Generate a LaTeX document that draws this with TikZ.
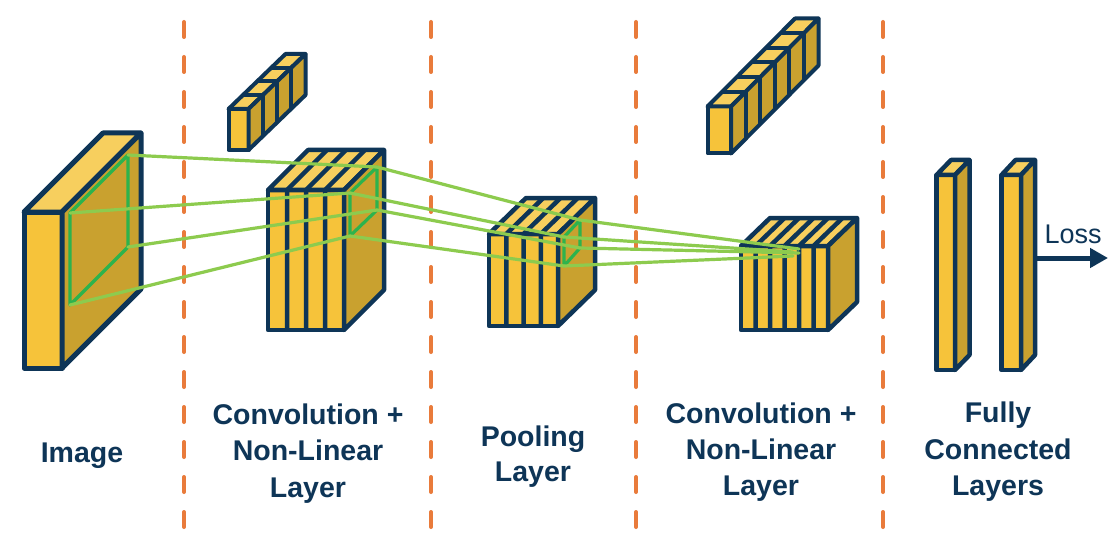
\documentclass[tikz,border=0pt]{standalone}
\usepackage{fontspec}
\setmainfont{Liberation Sans}
\usetikzlibrary{arrows.meta}
\definecolor{navy}{HTML}{0E3557}
\definecolor{cfront}{HTML}{F6C33A}
\definecolor{ctop}{HTML}{F7CF5E}
\definecolor{cright}{HTML}{C9A12F}
\definecolor{gline}{HTML}{8DCB4E}
\definecolor{gsq}{HTML}{2DB34D}
\definecolor{dashc}{HTML}{E97B3B}
\tikzset{
  face/.style={draw=navy, line join=round},
  divider/.style={dashc, line width=4pt, line cap=round, dash pattern=on 15pt off 20pt},
  ray/.style={gline, line width=3.2pt, line cap=round},
  window/.style={gsq, line width=3.2pt, line join=round},
  lbl/.style={text=navy, font=\fontsize{28.5}{36}\selectfont\bfseries, anchor=base, inner sep=0pt},
  losslbl/.style={text=navy, font=\fontsize{27}{32}\selectfont, anchor=base, inner sep=0pt},
}
% #1 line width, #2 x, #3 ytop, #4 w, #5 h, #6 dx, #7 dy
\newcommand{\prismbox}[7][4.5pt]{%
  \filldraw[face,line width=#1,fill=cfront] (#2,#3) rectangle ({#2+#4},{#3+#5});
  \filldraw[face,line width=#1,fill=ctop] (#2,#3) -- ({#2+#6},{#3-#7}) -- ({#2+#4+#6},{#3-#7}) -- ({#2+#4},#3) -- cycle;
  \filldraw[face,line width=#1,fill=cright] ({#2+#4},#3) -- ({#2+#4+#6},{#3-#7}) -- ({#2+#4+#6},{#3+#5-#7}) -- ({#2+#4},{#3+#5}) -- cycle;}
% slabs side by side on the front
\newcommand{\slabbox}[8][4.5pt]{%
  \prismbox[#1]{#2}{#3}{#4}{#5}{#6}{#7}
  \pgfmathtruncatemacro\slabcount{#8-1}
  \foreach \i in {1,...,\slabcount}{
    \draw[face,line width=#1] ({#2+\i*#4/#8},{#3+#5}) -- ({#2+\i*#4/#8},#3) -- ({#2+\i*#4/#8+#6},{#3-#7});}}
% segments along the depth
\newcommand{\segbox}[8][4pt]{%
  \prismbox[#1]{#2}{#3}{#4}{#5}{#6}{#7}
  \pgfmathtruncatemacro\segcount{#8-1}
  \foreach \i in {1,...,\segcount}{
    \draw[face,line width=#1] ({#2+\i*#6/#8},{#3-\i*#7/#8}) -- ({#2+#4+\i*#6/#8},{#3-\i*#7/#8}) -- ({#2+#4+\i*#6/#8},{#3+#5-\i*#7/#8});}}

\begin{document}
\begin{tikzpicture}[x=1pt,y=-1pt]
\useasboundingbox (0,0) rectangle (1118,540);
\fill[white] (0,0) rectangle (1118,540);

% dashed separators
\foreach \n/\xx in {1/184,2/431,3/636,4/883}{
  \coordinate (dt\n) at (\xx,22);
  \coordinate (db\n) at (\xx,527);
  \draw[divider] (dt\n) -- (db\n);
}

% blocks
\prismbox[5pt]{24}{212}{38}{156}{79}{79}
\segbox{228.5}{109}{20}{41}{57}{55}{4}
\slabbox{268}{190}{76}{140}{40}{40}{4}
\slabbox{489}{234}{69}{92}{37}{36}{4}
\segbox{707.5}{106.5}{23.5}{47}{87.5}{88}{6}
\slabbox{741}{246}{87}{84}{29}{28}{6}
\prismbox{936.5}{175}{18.5}{195}{14.5}{15}
\prismbox{1001.5}{175}{19.5}{195}{14}{15}

% receptive-field windows
\coordinate (g1a) at (128,155); \coordinate (g1b) at (70,213);
\coordinate (g1c) at (128,247); \coordinate (g1d) at (70,305);
\coordinate (g2a) at (377,167); \coordinate (g2b) at (350,193);
\coordinate (g2c) at (377,210); \coordinate (g2d) at (350,236);
\coordinate (g3a) at (580,220); \coordinate (g3b) at (564,237);
\coordinate (g3c) at (580,248); \coordinate (g3d) at (564,266);
\coordinate (g4a) at (799,249); \coordinate (g4b) at (793,252);
\coordinate (g4c) at (799,253); \coordinate (g4d) at (793,256);

\draw[window] (g1b) -- (g1a) -- (g1c) -- (g1d) -- cycle;
\draw[window] (g2b) -- (g2a) -- (g2c) -- (g2d) -- cycle;
\draw[window] (g3b) -- (g3a) -- (g3c) -- (g3d) -- cycle;

\foreach \c in {a,b,c,d}{
  \draw[ray] (g1\c) -- (g2\c);
  \draw[ray] (g2\c) -- (g3\c);
  \draw[ray] (g3\c) -- (g4\c);
}

% output arrow
\coordinate (fcout) at (1035,258);
\coordinate (lossend) at (1108,258);
\draw[navy, line width=5pt, -{Triangle[length=18pt,width=19pt]}] (fcout) -- (lossend);
\node[losslbl] (loss) at (1073,243) {Loss};

% labels
\node[lbl] (l1) at (82,462) {Image};
\node[lbl] (l2a) at (308,424) {Convolution +};
\node[lbl] (l2b) at (308,460) {Non-Linear};
\node[lbl] (l2c) at (308,497) {Layer};
\node[lbl] (l3a) at (533,446) {Pooling};
\node[lbl] (l3b) at (533,481) {Layer};
\node[lbl] (l4a) at (761,423) {Convolution +};
\node[lbl] (l4b) at (761,459) {Non-Linear};
\node[lbl] (l4c) at (761,495) {Layer};
\node[lbl] (l5a) at (998,422) {Fully};
\node[lbl] (l5b) at (998,459) {Connected};
\node[lbl] (l5c) at (998,495) {Layers};
\end{tikzpicture}
\end{document}
